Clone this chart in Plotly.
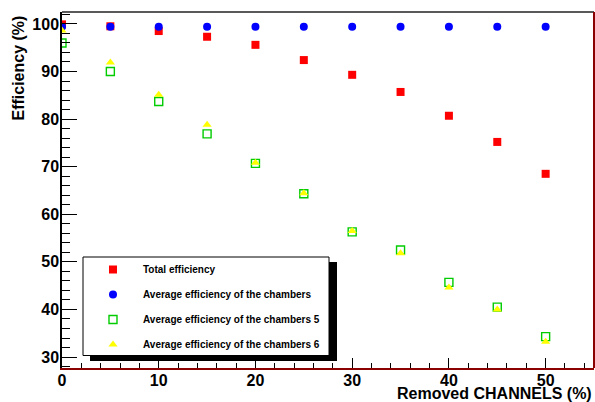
import plotly.graph_objects as go

removed = [0, 5, 10, 15, 20, 25, 30, 35, 40, 45, 50]
total_eff = [99.9, 99.5, 98.5, 97.3, 95.6, 92.4, 89.3, 85.7, 80.7, 75.2, 68.5]
avg_eff = [99.4, 99.4, 99.4, 99.4, 99.4, 99.4, 99.4, 99.4, 99.4, 99.4, 99.4]
avg_eff_5 = [96.0, 90.0, 83.7, 76.9, 70.7, 64.3, 56.3, 52.5, 45.7, 40.5, 34.3]
avg_eff_6 = [98.6, 91.9, 85.1, 78.8, 70.8, 64.4, 56.5, 51.8, 44.6, 40.0, 33.2]

names = ["Total efficiency",
         "Average efficiency of the chambers",
         "Average efficiency of the chambers 5",
         "Average efficiency of the chambers 6"]

W, H = 595, 402
L, R, T, B = 62, 1, 12, 34
PW, PH = W - L - R, H - T - B


def px(x):
    return (x - L) / PW


def py(y):
    return (H - B - y) / PH


FONT = "Liberation Sans, Arial, Helvetica, sans-serif"

fig = go.Figure()
fig.add_trace(go.Scatter(x=removed, y=total_eff, mode="markers", name=names[0], legendgroup="a",
                         marker=dict(symbol="square", size=8, color="#ff0000", line=dict(width=0))))
fig.add_trace(go.Scatter(x=removed, y=avg_eff, mode="markers", name=names[1], legendgroup="b",
                         marker=dict(symbol="circle", size=8, color="#0000ff", line=dict(width=0))))
fig.add_trace(go.Scatter(x=removed, y=avg_eff_5, mode="markers", name=names[2], legendgroup="c",
                         marker=dict(symbol="square-open", size=8, color="#00cc00", line=dict(width=1.4, color="#00cc00"))))
fig.add_trace(go.Scatter(x=removed, y=avg_eff_6, mode="markers", name=names[3], legendgroup="d",
                         marker=dict(symbol="triangle-up", size=8, color="#ffff00", line=dict(width=0))))

shapes = [
    # legend shadow
    dict(type="rect", xref="paper", yref="paper", x0=px(90), x1=px(337), y0=py(262), y1=py(361),
         fillcolor="black", line=dict(width=0), layer="above"),
    # legend box
    dict(type="rect", xref="paper", yref="paper", x0=px(83), x1=px(329), y0=py(257), y1=py(355.5),
         fillcolor="white", line=dict(width=1, color="black"), layer="above"),
    # top frame
    dict(type="line", xref="paper", yref="paper", x0=0, x1=1, y0=1, y1=1,
         line=dict(width=1.5, color="#222222"), layer="above"),
    # right frame
    dict(type="line", xref="paper", yref="paper", x0=1, x1=1, y0=0, y1=1,
         line=dict(width=2, color="#8b0000"), layer="above"),
]

annotations = [
    dict(text="<b>Efficiency (%)</b>", xref="paper", yref="paper", x=px(18), y=py(68.5),
         xanchor="center", yanchor="middle", textangle=-90, showarrow=False,
         font=dict(family=FONT, size=16, color="black")),
    dict(text="<b>Removed CHANNELS (%)</b>", xref="paper", yref="paper", x=1.0, y=py(393),
         xanchor="right", yanchor="middle", showarrow=False,
         font=dict(family=FONT, size=16, color="black")),
]

fig.update_layout(
    width=W, height=H,
    margin=dict(l=L, r=R, t=T, b=B, pad=0, autoexpand=False),
    paper_bgcolor="white", plot_bgcolor="white",
    showlegend=True,
    legend=dict(x=px(83), y=py(255), xanchor="left", yanchor="top",
                bgcolor="rgba(0,0,0,0)", borderwidth=0, itemwidth=50,
                tracegroupgap=6,
                font=dict(family=FONT, size=10, color="black", weight="bold")),
    shapes=shapes,
    annotations=annotations,
)

fig.update_xaxes(
    range=[0, 55], showgrid=False, zeroline=False, automargin=False,
    showline=True, linecolor="#8b0000", linewidth=2,
    ticks="inside", ticklen=10, tickwidth=1, tickcolor="black",
    tick0=0, dtick=10, ticklabelstandoff=-3,
    minor=dict(ticks="inside", ticklen=5, dtick=2, tick0=0, tickcolor="black", showgrid=False),
    tickfont=dict(family=FONT, size=16, color="black", weight="bold"),
)
fig.update_yaxes(
    range=[27.7, 102.5], showgrid=False, zeroline=False, automargin=False,
    showline=True, linecolor="black", linewidth=1.5,
    ticks="inside", ticklen=15, tickwidth=1, tickcolor="black",
    tick0=0, dtick=10, ticklabelstandoff=-2,
    minor=dict(ticks="inside", ticklen=8, dtick=2, tick0=0, tickcolor="black", showgrid=False),
    tickfont=dict(family=FONT, size=16, color="black", weight="bold"),
)

fig.write_html("out.html", config={"displayModeBar": False},
               post_script="document.body.style.margin='0';document.body.style.overflow='hidden';")
